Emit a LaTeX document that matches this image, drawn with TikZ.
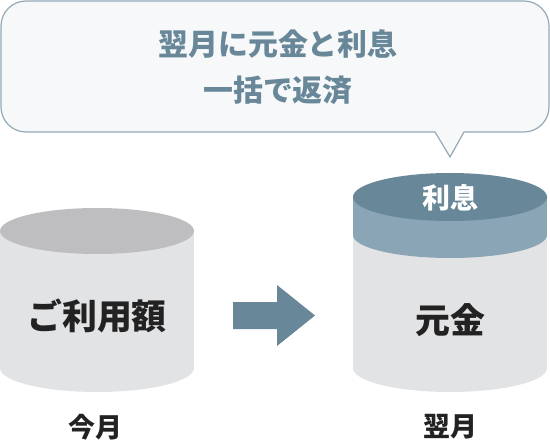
\documentclass[tikz,border=0pt]{standalone}
\usepackage{fontspec}
\usepackage{xcolor}
\usepackage{tikz}
\usetikzlibrary{positioning}
\newfontfamily\jpfont{Noto Sans CJK JP}
\definecolor{slate}{HTML}{688799}
\definecolor{band}{HTML}{8AA5B5}
\definecolor{body}{HTML}{E2E3E5}
\definecolor{lid}{HTML}{BEBEC0}
\definecolor{ink}{HTML}{222222}
\definecolor{bubblefill}{HTML}{F6F8F9}
\definecolor{bubbleline}{HTML}{93A9B8}

\begin{document}
\begin{tikzpicture}[x=1bp,y=-1bp,
  lbl/.style={font=\jpfont\bfseries\fontsize{#1}{#1}\selectfont,text=ink,inner sep=0pt}]
  \useasboundingbox (0,0) rectangle (550,445);
  \node[draw=bubbleline,fill=bubblefill,rounded corners=25bp,line width=1.2bp,
    minimum width=548bp,minimum height=131bp,inner sep=0pt] (bubble) at (275,66.5) {};
  \coordinate (tip) at (450,157);
  \fill[bubblefill] (435,131) -- (tip) -- (464,131) -- cycle;
  \draw[bubbleline,line width=1.2bp] (435,132) -- (tip) -- (464,132);
  \node[align=center,inner sep=0pt,text=slate,
    font=\jpfont\bfseries\fontsize{30}{46}\selectfont] (msg) at (278,67) {翌月に元金と利息\\一括で返済};
  \fill[body] (0,231) rectangle (194,368);
  \fill[body] (97,368) ellipse[x radius=97,y radius=24];
  \fill[lid] (97,231) ellipse[x radius=97,y radius=23];
  \fill[body] (353,235) rectangle (547,368);
  \fill[body] (450,368) ellipse[x radius=97,y radius=24];
  \fill[band] (353,197) rectangle (547,235);
  \fill[band] (450,235) ellipse[x radius=97,y radius=23];
  \fill[slate] (450,197) ellipse[x radius=97,y radius=24];
  \fill[slate] (233,302) -- (277,302) -- (277,285) -- (315,315.5) -- (277,346) -- (277,329) -- (233,329) -- cycle;
  \node[lbl=35] (used) at (97,316) {ご利用額};
  \node[lbl=35] (principal) at (450,320) {元金};
  \node[lbl=28,text=white] (interest) at (450,198) {利息};
  \node[lbl=27] (now) at (95,427) {今月};
  \node[lbl=27] (next) at (450,427) {翌月};
\end{tikzpicture}
\end{document}
